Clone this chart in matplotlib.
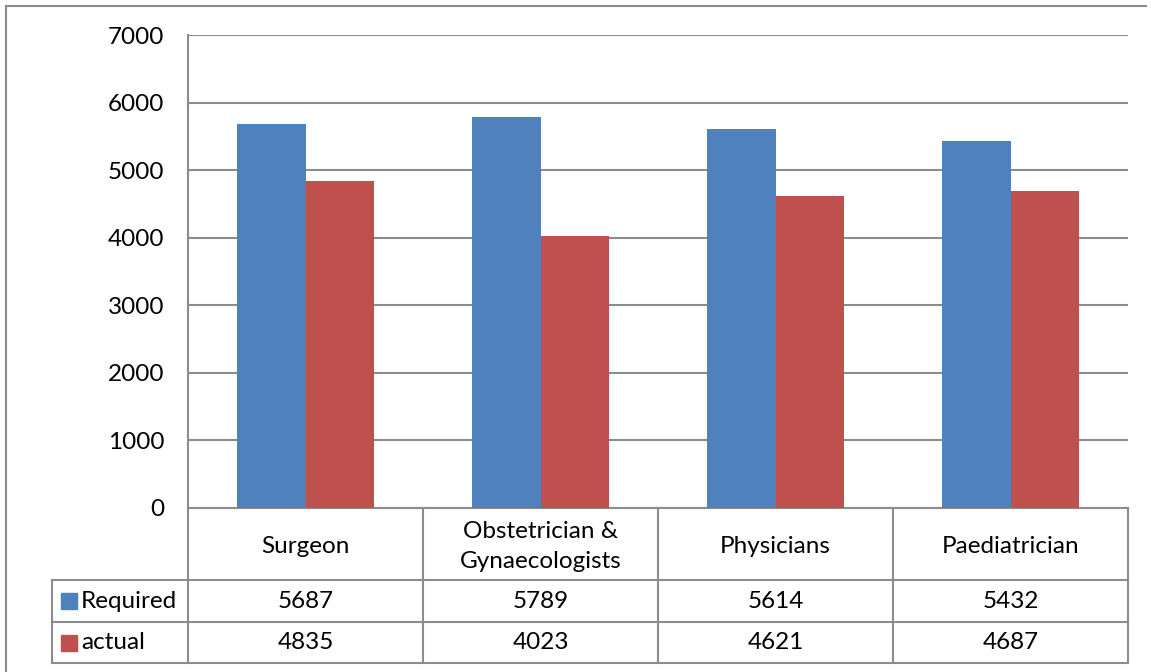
import matplotlib
matplotlib.use("Agg")
from matplotlib import pyplot as plt
from matplotlib.patches import Rectangle
from matplotlib.lines import Line2D
import numpy as np

plt.rcParams['font.family'] = ['Lato', 'DejaVu Sans']

# Dados
categorias = ['Surgeon', 'Obstetrician &\nGynaecologists', 'Physicians', 'Paediatrician']
series = ['Required', 'actual']
required = [5687, 5789, 5614, 5432]
actual = [4835, 4023, 4621, 4687]
yticks = [0, 1000, 2000, 3000, 4000, 5000, 6000, 7000]

cores = ['#4F81BD', '#C0504D']
cinza = '#8C8C8C'
W, H = 1151, 672
fs = 17.5

fig = plt.figure(figsize=(W / 100, H / 100), dpi=100)

# Borda externa (só topo e esquerda aparecem)
fig.add_artist(Line2D([5.5 / W, 5.5 / W], [0, 1 - 5.5 / H], transform=fig.transFigure,
                      color=cinza, lw=1.5))
fig.add_artist(Line2D([5.5 / W, 1146 / W], [1 - 5.5 / H, 1 - 5.5 / H],
                      transform=fig.transFigure, color=cinza, lw=1.5))

# Área do gráfico
x0, x1, y0, y1 = 188, 1128, 35, 508
ax = fig.add_axes([x0 / W, 1 - y1 / H, (x1 - x0) / W, (y1 - y0) / H])

n = len(categorias)
centros = np.arange(n) + 0.5
largura = 0.29
ax.bar(centros - largura / 2, required, largura, color=cores[0], zorder=3)
ax.bar(centros + largura / 2, actual, largura, color=cores[1], zorder=3)

ax.set_xlim(0, n)
ax.set_ylim(0, 7000)
ax.set_yticks(yticks)
ax.set_yticklabels([str(v) for v in yticks], fontsize=fs)
ax.tick_params(axis='y', length=0, pad=17)
ax.set_xticks([])
ax.grid(axis='y', color=cinza, lw=1.5, zorder=0)
for s in ['top', 'right', 'bottom']:
    ax.spines[s].set_visible(False)
ax.spines['left'].set_color(cinza)
ax.spines['left'].set_linewidth(1.5)

# Tabela de dados (em coordenadas do eixo)
alt = y1 - y0
def ya(py):
    return -(py - y1) / alt

lin_cab = ya(580)
lin_r1 = ya(622)
lin_r2 = ya(663)
esq = (52 - x0) / (x1 - x0)
tr = ax.transAxes
kw = dict(color=cinza, lw=1.5, transform=tr, clip_on=False)

# linhas horizontais
ax.plot([0, 1], [0, 0], **kw)
for yy in [lin_cab, lin_r1, lin_r2]:
    ax.plot([esq, 1], [yy, yy], **kw)
# linhas verticais
for i in range(n + 1):
    xx = i / n
    ax.plot([xx, xx], [0, lin_r2], **kw)
ax.plot([esq, esq], [lin_cab, lin_r2], **kw)

# textos
for i, c in enumerate(categorias):
    xc = (i + 0.5) / n
    ax.text(xc, lin_cab / 2 - 0.005, c, transform=tr, ha='center', va='center',
            fontsize=fs, linespacing=1.55)
    ax.text(xc, (lin_cab + lin_r1) / 2, str(required[i]), transform=tr,
            ha='center', va='center', fontsize=fs)
    ax.text(xc, (lin_r1 + lin_r2) / 2, str(actual[i]), transform=tr,
            ha='center', va='center', fontsize=fs)

# rótulos das séries com chave de cor
for k, (nome, yc) in enumerate(zip(series, [(lin_cab + lin_r1) / 2, (lin_r1 + lin_r2) / 2])):
    qx = (61 - x0) / (x1 - x0)
    qw = 16 / (x1 - x0)
    qh = 16 / alt
    ax.add_patch(Rectangle((qx, yc - qh / 2), qw, qh, color=cores[k],
                           transform=tr, clip_on=False))
    ax.text((81 - x0) / (x1 - x0), yc, nome, transform=tr, ha='left',
            va='center', fontsize=fs)

fig.savefig('out.png', dpi=100)
